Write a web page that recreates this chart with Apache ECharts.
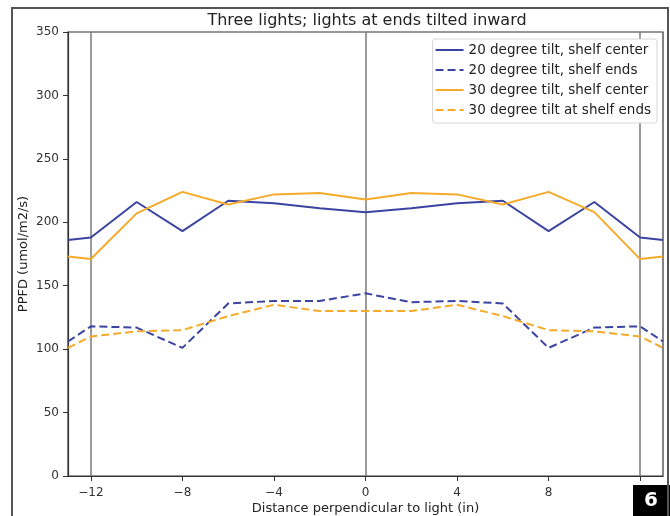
<!DOCTYPE html>
<html>
<head>
<meta charset="utf-8">
<script src="https://cdn.jsdelivr.net/npm/echarts@6/dist/echarts.min.js"></script>
<style>
  html, body { margin: 0; padding: 0; background: #fff; }
  #chart { width: 670px; height: 516px; }
</style>
</head>
<body>
<div id="chart"></div>
<script>
// Positions across the shelf (inches from the centre light)
const positions = [-13, -12, -10, -8, -6, -4, -2, 0, 2, 4, 6, 8, 10, 12, 13];

// PPFD readings (umol/m2/s)
const tilt20Center = [186, 188, 216, 193, 217, 215, 211, 208, 211, 215, 217, 193, 216, 188, 186];
const tilt20Ends   = [106, 118, 117, 101, 136, 138, 138, 144, 137, 138, 136, 101, 117, 118, 106];
const tilt30Center = [173, 171, 207, 224, 214, 222, 223, 218, 223, 222, 214, 224, 208, 171, 173];
const tilt30Ends   = [101, 110, 114, 115, 126, 135, 130, 130, 130, 135, 126, 115, 114, 110, 101];

// Light fixture positions and axis ticks
const lightPositions = [-12, 0, 12];
const xTicks = [-12, -8, -4, 0, 4, 8, 12];
// the label at 12 sits under the figure badge, so it is left out
const xTickLabels = [-12, -8, -4, 0, 4, 8];
const yTicks = [0, 50, 100, 150, 200, 250, 300, 350];

const seriesNames = [
  '20 degree tilt, shelf center',
  '20 degree tilt, shelf ends',
  '30 degree tilt, shelf center',
  '30 degree tilt at shelf ends'
];

const BLUE = '#3b44a0';
const ORANGE = '#f4ab2c';
const FONT = '"DejaVu Sans", sans-serif';

function pairs(values) {
  return positions.map((x, i) => [x, values[i]]);
}

function lineSeries(name, values, color, dashed) {
  return {
    name: name,
    type: 'line',
    data: pairs(values),
    symbol: 'none',
    showSymbol: false,
    smooth: false,
    z: 3,
    lineStyle: { color: color, width: 2, type: dashed ? [8, 4] : 'solid' },
    itemStyle: { color: color }
  };
}

const chart = echarts.init(document.getElementById('chart'), null, { renderer: 'canvas' });

const series = [
  lineSeries(seriesNames[0], tilt20Center, BLUE, false),
  lineSeries(seriesNames[1], tilt20Ends, BLUE, true),
  lineSeries(seriesNames[2], tilt30Center, ORANGE, false),
  lineSeries(seriesNames[3], tilt30Ends, ORANGE, true)
];

// Gray verticals marking where the three lights hang
series[0].markLine = {
  silent: true,
  symbol: ['none', 'none'],
  label: { show: false },
  z: 1,
  lineStyle: { color: '#7a7a7a', width: 1.5, type: 'solid' },
  emphasis: { disabled: true },
  data: lightPositions.map(v => ({ xAxis: v }))
};

chart.setOption({
  animation: false,
  backgroundColor: '#ffffff',
  title: {
    text: 'Three lights; lights at ends tilted inward',
    left: 362,
    textAlign: 'center',
    top: 8,
    textStyle: { fontFamily: FONT, fontSize: 16, fontWeight: 'normal', color: '#222' }
  },
  legend: {
    orient: 'vertical',
    right: 13,
    top: 39,
    itemWidth: 28,
    itemHeight: 12,
    itemGap: 6,
    padding: [4, 6, 6, 2],
    backgroundColor: '#ffffff',
    borderColor: '#d8d8d8',
    borderWidth: 1,
    borderRadius: 3,
    itemStyle: { opacity: 0 },
    textStyle: { fontFamily: FONT, fontSize: 13.5, color: '#222' },
    data: seriesNames
  },
  grid: {
    left: 68, right: 7, top: 32, bottom: 40,
    containLabel: false,
    outerBoundsMode: 'none',
    show: true, borderColor: '#333', borderWidth: 1.2, backgroundColor: 'transparent'
  },
  xAxis: {
    type: 'value',
    min: -13,
    max: 13,
    name: 'Distance perpendicular to light (in)',
    nameLocation: 'middle',
    nameGap: 26,
    nameMoveOverlap: false,
    nameTextStyle: { fontFamily: FONT, fontSize: 13, color: '#222' },
    axisLine: { show: true, onZero: false, lineStyle: { color: '#333', width: 1.2 } },
    axisTick: { show: true, length: 5, customValues: xTicks, lineStyle: { color: '#333' } },
    axisLabel: {
      customValues: xTickLabels,
      margin: 11,
      fontFamily: FONT,
      fontSize: 12,
      color: '#333',
      formatter: v => (v < 0 ? '\u2212' + Math.abs(v) : String(v))
    },
    splitLine: { show: false }
  },
  yAxis: {
    type: 'value',
    min: 0,
    max: 350,
    interval: 50,
    name: 'PPFD (umol/m2/s)',
    nameLocation: 'middle',
    nameRotate: 90,
    nameGap: 38,
    nameMoveOverlap: false,
    nameTextStyle: { fontFamily: FONT, fontSize: 13, color: '#222' },
    axisLine: { show: true, onZero: false, lineStyle: { color: '#333', width: 1.2 } },
    axisTick: { show: true, length: 5, lineStyle: { color: '#333' } },
    axisLabel: {
      customValues: yTicks,
      margin: 9,
      fontFamily: FONT,
      fontSize: 12,
      color: '#333'
    },
    splitLine: { show: false }
  },
  graphic: [
    // outer frame
    {
      type: 'polyline',
      zlevel: 1,
      shape: { points: [[12, 516], [12, 8], [668, 8], [668, 516]] },
      style: { fill: 'none', stroke: '#555', lineWidth: 2 },
      silent: true, z: 10
    },
    // figure number badge
    {
      type: 'group',
      zlevel: 1,
      left: 633, top: 485, z: 100,
      children: [
        { type: 'rect', shape: { x: 0, y: 0, width: 37, height: 31 }, style: { fill: '#000' } },
        {
          type: 'text',
          style: {
            text: '6', x: 18, y: 16, align: 'center', verticalAlign: 'middle',
            fill: '#fff', font: 'bold 20px "DejaVu Sans", sans-serif'
          }
        }
      ]
    }
  ],
  series: series
});
</script>
</body>
</html>
